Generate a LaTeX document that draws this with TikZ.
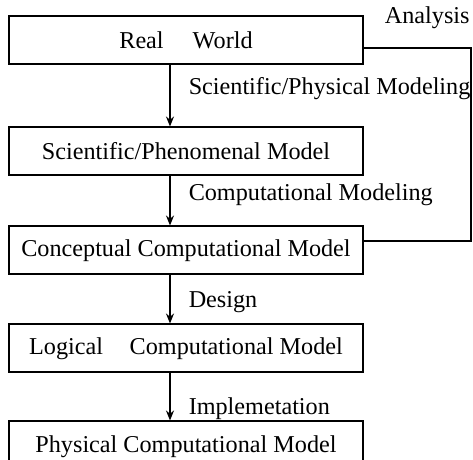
\documentclass[tikz,border=0pt]{standalone}
\usepackage{fontspec}
\setmainfont{Liberation Serif}
\usepackage{tikz}
\usetikzlibrary{arrows.meta,positioning}
\tikzset{
    %Define standard arrow tip
    >={Stealth[length=5pt,width=4pt]},
    %Define style for model boxes
    modelbox/.style={
           rectangle,
           draw=black, line width=1pt,
           minimum width=177pt,
           minimum height=24pt,
           inner sep=0pt,
           font=\fontsize{12.1}{14}\selectfont,
           text centered},
    %Define style for step labels
    steplabel/.style={
           inner sep=0pt,
           font=\fontsize{12.1}{14}\selectfont},
    % Define arrow style
    pil/.style={
           ->,
           line width=0.75pt},
    back/.style={
           line width=0.8pt}
}

\begin{document}
\begin{tikzpicture}[x=0.5pt,y=-0.5pt]
\useasboundingbox (0,0) rectangle (473,460);
\node[modelbox](real) at (186,40.5){Real\hspace{1.2em}World};
\node[modelbox, below=30.5pt of real](phen){Scientific/Phenomenal Model};
\node[modelbox, below=24.5pt of phen](concept){Conceptual Computational Model};
\node[modelbox, below=24pt of concept](logic){Logical\hspace{1.1em}Computational Model};
\node[modelbox, below=23.5pt of logic, minimum height=25pt](phys){Physical Computational Model};
\node[steplabel, anchor=east](ana) at (470,18){Analysis};
\coordinate (turn) at (471,48);
 \path[pil, every node/.style={steplabel, anchor=west, xshift=9pt}]
    ([xshift=-8pt]real.south) edge node[pos=0.385]{Scientific/Physical Modeling} ([xshift=-8pt]phen.north)
    ([xshift=-8pt]phen.south) edge node[pos=0.38]{Computational Modeling} ([xshift=-8pt]concept.north)
    ([xshift=-8pt]concept.south) edge node[pos=0.55]{Design} ([xshift=-8pt]logic.north)
    ([xshift=-8pt]logic.south) edge node[pos=0.755]{Implemetation} ([xshift=-8pt]phys.north);
\draw[back] ([yshift=-3.75pt]real.east) -- (turn) |- ([yshift=4.75pt]concept.east);
\end{tikzpicture}
\end{document}
